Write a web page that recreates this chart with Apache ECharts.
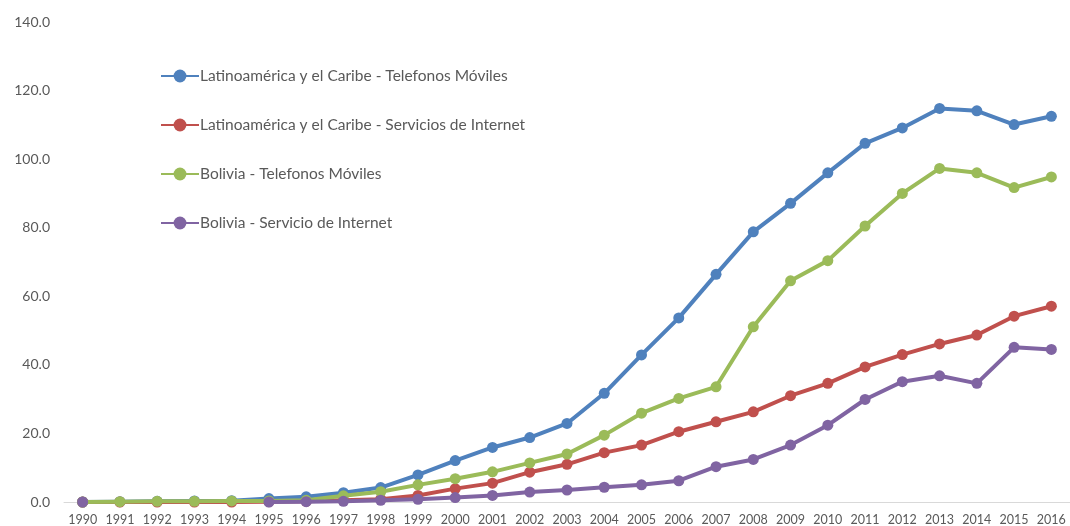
<!DOCTYPE html>
<html>
<head>
<meta charset="utf-8">
<script src="https://cdn.jsdelivr.net/npm/echarts@6/dist/echarts.min.js"></script>
<style>
  html, body { margin: 0; padding: 0; background: #fff; }
  #chart { width: 1070px; height: 526px; }
</style>
</head>
<body>
<div id="chart"></div>
<script>
// Years on the category axis
const years = ['1990','1991','1992','1993','1994','1995','1996','1997','1998','1999',
  '2000','2001','2002','2003','2004','2005','2006','2007','2008','2009',
  '2010','2011','2012','2013','2014','2015','2016'];

// Subscriptions per 100 inhabitants
const lacMobile = [0, 0.1, 0.2, 0.3, 0.4, 1.0, 1.5, 2.7, 4.2, 7.9, 12.1, 15.9, 18.8, 22.9, 31.7,
  42.9, 53.7, 66.4, 78.8, 87.1, 96.0, 104.6, 109.1, 114.8, 114.1, 110.1, 112.5];
const lacInternet = [0, 0, 0, 0, 0, 0.1, 0.2, 0.5, 0.8, 1.9, 3.9, 5.5, 8.7, 11.0, 14.4,
  16.6, 20.5, 23.4, 26.3, 31.0, 34.6, 39.4, 43.0, 46.1, 48.7, 54.2, 57.1];
const bolMobile = [0, 0.1, 0.2, 0.2, 0.3, 0.3, 0.5, 1.8, 3.0, 5.0, 6.8, 8.8, 11.4, 14.0, 19.5,
  25.9, 30.2, 33.6, 51.1, 64.5, 70.4, 80.5, 90.0, 97.3, 96.0, 91.7, 94.8];
const bolInternet = [0, null, null, null, null, 0, 0.1, 0.2, 0.5, 0.8, 1.3, 1.9, 2.9, 3.5, 4.3,
  5.0, 6.2, 10.3, 12.4, 16.6, 22.4, 29.9, 35.1, 36.8, 34.6, 45.1, 44.5];

// Y axis range and step
const yMin = 0, yMax = 140, yStep = 20;

const seriesNames = [
  'Latinoamérica y el Caribe - Telefonos Móviles',
  'Latinoamérica y el Caribe - Servicios de Internet',
  'Bolivia - Telefonos Móviles',
  'Bolivia - Servicio de Internet'
];
const seriesData = [lacMobile, lacInternet, bolMobile, bolInternet];
const colors = ['#4F81BD', '#C0504D', '#9BBB59', '#8064A2'];

const textColor = '#595959';
const fontFamily = 'Lato, "Open Sans", sans-serif';

const chart = echarts.init(document.getElementById('chart'), null, { renderer: 'canvas' });

chart.setOption({
  animation: false,
  backgroundColor: '#ffffff',
  color: colors,
  grid: { left: 64, right: 0, top: 22, bottom: 24, containLabel: false },
  legend: {
    orient: 'vertical',
    left: 160,
    top: 68,
    padding: 0,
    itemWidth: 38,
    itemHeight: 16,
    itemGap: 33,
    data: seriesNames,
    textStyle: { color: textColor, fontSize: 15.5, fontFamily: fontFamily, padding: [0, 0, 0, -4] }
  },
  xAxis: {
    type: 'category',
    data: years,
    boundaryGap: true,
    axisLine: { lineStyle: { color: '#D9D9D9', width: 1 } },
    axisTick: { show: false },
    axisLabel: { color: textColor, fontSize: 12.5, fontFamily: fontFamily, margin: 11, interval: 0 },
    splitLine: { show: false }
  },
  yAxis: {
    type: 'value',
    min: yMin,
    max: yMax,
    interval: yStep,
    axisLine: { show: false },
    axisTick: { show: false },
    splitLine: { show: false },
    axisLabel: {
      color: textColor, fontSize: 14, fontFamily: fontFamily, margin: 14,
      formatter: v => v.toFixed(1)
    }
  },
  series: seriesNames.map((name, i) => ({
    name: name,
    type: 'line',
    data: seriesData[i],
    connectNulls: false,
    symbol: 'circle',
    symbolSize: 11,
    showSymbol: true,
    lineStyle: { width: 4, color: colors[i] },
    itemStyle: { color: colors[i] },
    z: 2 + i
  }))
});
</script>
</body>
</html>
